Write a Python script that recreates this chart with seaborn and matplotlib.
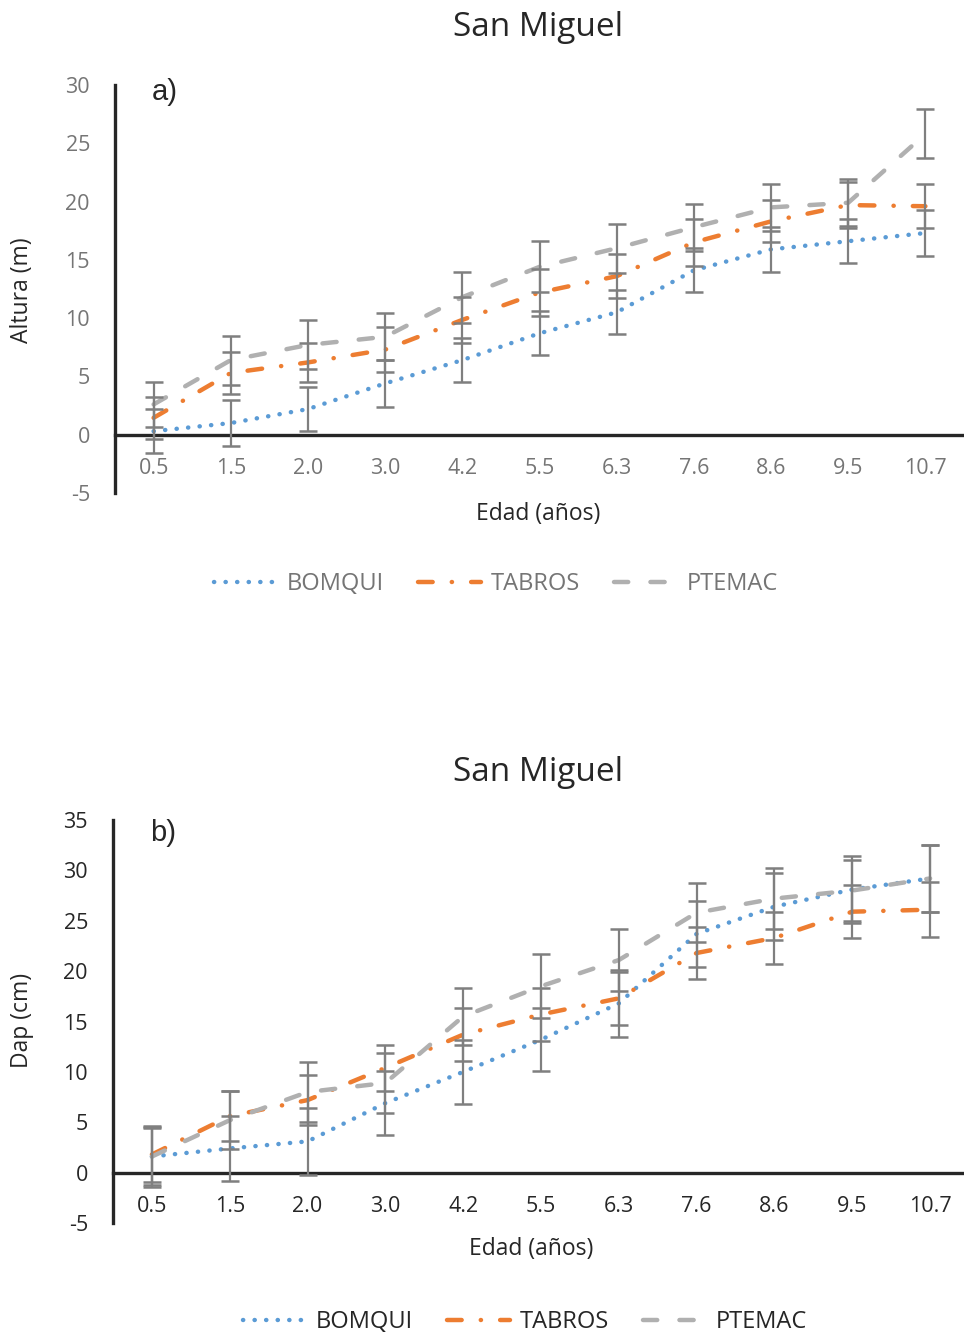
import matplotlib
matplotlib.use("Agg")
import matplotlib.pyplot as plt
from matplotlib.lines import Line2D
import seaborn as sns
import pandas as pd

# ---------------- data ----------------
edad = ["0.5", "1.5", "2.0", "3.0", "4.2", "5.5", "6.3", "7.6", "8.6", "9.5", "10.7"]

alt_bomqui = [0.3, 1.0, 2.2, 4.4, 6.4, 8.7, 10.5, 14.1, 15.9, 16.6, 17.3]
alt_tabros = [1.45, 5.3, 6.2, 7.3, 9.85, 12.2, 13.6, 16.5, 18.3, 19.7, 19.6]
alt_ptemac = [2.6, 6.4, 7.7, 8.4, 11.8, 14.4, 16.0, 17.8, 19.5, 19.9, 25.8]
alt_bomqui_err = [1.9, 2.0, 1.9, 2.0, 1.9, 1.9, 1.9, 1.9, 1.9, 1.9, 2.0]
alt_tabros_err = [1.8, 1.8, 1.7, 1.9, 2.0, 2.0, 1.9, 2.0, 1.8, 2.0, 1.9]
alt_ptemac_err = [1.9, 2.1, 2.1, 2.0, 2.2, 2.2, 2.1, 2.0, 2.0, 2.0, 2.1]

dap_bomqui = [1.6, 2.4, 3.1, 6.9, 10.0, 13.2, 16.8, 23.7, 26.4, 28.1, 29.2]
dap_tabros = [1.8, 5.6, 7.2, 10.4, 13.7, 15.7, 17.3, 21.8, 23.3, 25.9, 26.1]
dap_ptemac = [1.6, 5.2, 8.0, 8.9, 15.5, 18.5, 21.1, 25.8, 27.2, 28.0, 29.2]
dap_bomqui_err = [3.0, 3.2, 3.3, 3.2, 3.2, 3.1, 3.3, 3.3, 3.3, 3.3, 3.3]
dap_tabros_err = [2.7, 2.5, 2.5, 2.3, 2.6, 2.6, 2.6, 2.6, 2.6, 2.6, 2.7]
dap_ptemac_err = [2.8, 2.9, 3.0, 3.0, 2.8, 3.2, 3.1, 2.9, 3.0, 3.0, 3.3]

series = ["BOMQUI", "TABROS", "PTEMAC"]
colors = {"BOMQUI": "#5B9BD5", "TABROS": "#ED7D31", "PTEMAC": "#B0B0B0"}
dashes = {"BOMQUI": (0.05, 2.55), "TABROS": (3.3, 4.3, 0.05, 4.3), "PTEMAC": (3.2, 5.0)}
LW = 3.2

sns.set_theme(style="white")
plt.rcParams["font.family"] = ["Open Sans", "DejaVu Sans"]
plt.rcParams["axes.unicode_minus"] = False

fig = plt.figure(figsize=(9.64, 13.42), dpi=100)
W, H = 964.0, 1342.0


def make_df(b, t, p, be, te, pe):
    rows = []
    for name, vals, errs in (("BOMQUI", b, be), ("TABROS", t, te), ("PTEMAC", p, pe)):
        for i, (v, e) in enumerate(zip(vals, errs)):
            rows.append({"pos": i, "edad": edad[i], "serie": name, "valor": v, "err": e})
    return pd.DataFrame(rows)


def panel(rect, df, ylim, yticks, tick_color, title, title_y, letter, letter_xy,
          ylabel, ylabel_y, xlabel_xy, legend_xy, legend_color):
    ax = fig.add_axes(rect)
    sns.lineplot(data=df, x="pos", y="valor", hue="serie", style="serie",
                 palette=colors, dashes=dashes, linewidth=LW, ax=ax,
                 legend=False, sort=False)
    for ln in ax.get_lines():
        ln.set_dash_capstyle("round")
        ln.set_solid_capstyle("round")
    for name in series:
        d = df[df.serie == name]
        ax.errorbar(d["pos"], d["valor"], yerr=d["err"], fmt="none",
                    ecolor="#7F7F7F", elinewidth=1.6, capsize=6.5,
                    capthick=1.8, zorder=5)
    ax.set_xlim(-0.5, len(edad) - 0.5)
    ax.set_ylim(*ylim)
    ax.set_yticks(yticks)
    ax.set_xticks(range(len(edad)))
    ax.set_xticklabels(edad)
    ax.set_xlabel("")
    ax.set_ylabel("")
    for s in ("top", "right"):
        ax.spines[s].set_visible(False)
    ax.spines["left"].set_color("#262626")
    ax.spines["left"].set_linewidth(2.4)
    ax.spines["bottom"].set_position(("data", 0))
    ax.spines["bottom"].set_color("#262626")
    ax.spines["bottom"].set_linewidth(2.4)
    ax.tick_params(axis="both", length=0, labelsize=15.5, labelcolor=tick_color)
    ax.tick_params(axis="x", pad=17)
    ax.tick_params(axis="y", pad=18)
    ax.grid(False)

    fig.text(538 / W, 1 - title_y / H, title, ha="center", va="center",
             fontsize=24, color="#262626")
    fig.text(letter_xy[0] / W, 1 - letter_xy[1] / H, letter, ha="center", va="center",
             fontsize=21, color="#262626", family=["Liberation Sans"])
    fig.text(22 / W, 1 - ylabel_y / H, ylabel, ha="center", va="center",
             rotation=90, fontsize=16.5, color="#262626")
    fig.text(xlabel_xy[0] / W, 1 - xlabel_xy[1] / H, "Edad (años)", ha="center",
             va="center", fontsize=16.5, color="#262626")

    hs = [Line2D([], [], color=colors[n], linewidth=LW, dashes=dashes[n],
                 dash_capstyle="round") for n in series]
    leg = fig.legend(hs, series, loc="center",
                     bbox_to_anchor=(legend_xy[0] / W, 1 - legend_xy[1] / H),
                     ncol=3, frameon=False, fontsize=17, handlelength=2.7,
                     columnspacing=1.4, handletextpad=0.42)
    for t in leg.get_texts():
        t.set_color(legend_color)
    return ax


df_a = make_df(alt_bomqui, alt_tabros, alt_ptemac, alt_bomqui_err, alt_tabros_err, alt_ptemac_err)
df_b = make_df(dap_bomqui, dap_tabros, dap_ptemac, dap_bomqui_err, dap_tabros_err, dap_ptemac_err)

panel([115 / W, 1 - 493 / H, 849 / W, (493 - 85) / H], df_a, (-5, 30),
      range(-5, 31, 5), "#757575", "San Miguel", 28, "a)", (165, 92),
      "Altura (m)", 290, (538, 514), (496, 584), "#757575")

panel([113 / W, 1 - 1223 / H, 856 / W, (1223 - 820) / H], df_b, (-5, 35),
      range(-5, 36, 5), "#262626", "San Miguel", 772, "b)", (163, 833),
      "Dap (cm)", 1020, (531, 1249), (525, 1322), "#262626")

fig.savefig("out.png", dpi=100, facecolor="white")
